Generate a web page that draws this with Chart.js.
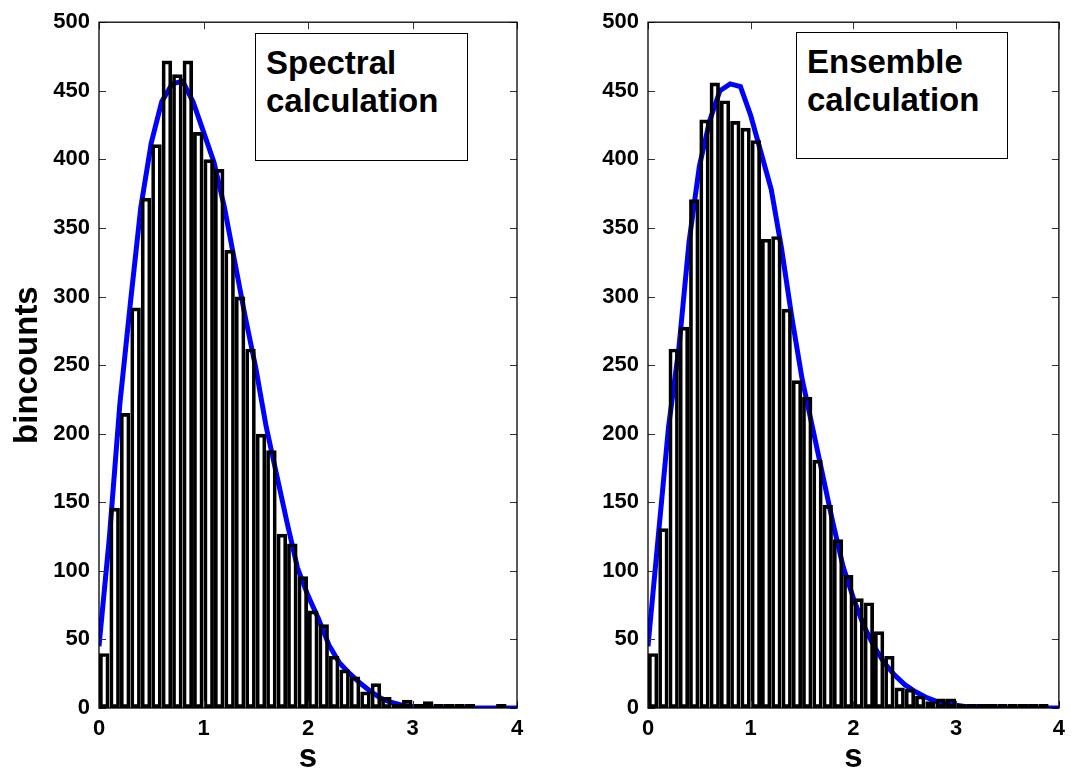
<!DOCTYPE html>
<html><head><meta charset="utf-8">
<script src="https://cdn.jsdelivr.net/npm/chart.js@4.4.1/dist/chart.umd.min.js"></script>
<style>
html,body{margin:0;padding:0;background:#fff;width:1073px;height:778px;overflow:hidden;}
canvas{position:absolute;top:0;}
#c1{left:0;}
#c2{left:549px;}
.note{position:absolute;box-sizing:border-box;border:1px solid #000;background:#fff;
  font-family:"Liberation Sans",Arial,sans-serif;font-weight:bold;font-size:33px;line-height:38px;color:#000;
  padding:10px 0 0 10px;white-space:nowrap;}
#n1{left:255px;top:33px;width:213px;height:128px;}
#n2{left:796px;top:32px;width:212px;height:127px;}
</style>
</head><body>
<canvas id="c1" width="540" height="778"></canvas>
<canvas id="c2" width="524" height="778"></canvas>
<div class="note" id="n1">Spectral<br>calculation</div>
<div class="note" id="n2">Ensemble<br>calculation</div>
<script>
// ---- data ----
const BIN_CENTERS = [0.05,0.15,0.25,0.35,0.45,0.55,0.65,0.75,0.85,0.95,
  1.05,1.15,1.25,1.35,1.45,1.55,1.65,1.75,1.85,1.95,
  2.05,2.15,2.25,2.35,2.45,2.55,2.65,2.75,2.85,2.95,
  3.05,3.15,3.25,3.35,3.45,3.55,3.65,3.75,3.85];
const SPECTRAL_COUNTS = [40,146,215,292,372,411,472,462,472,420,
  400,393,334,300,262,200,188,127,120,96,
  71,61,38,28,23,12,18,8,3,6,
  2,5,1,1,1,1,null,null,2];
const ENSEMBLE_COUNTS = [40,131,262,278,371,429,456,443,428,423,
  414,342,344,291,239,227,181,148,123,97,
  80,77,56,38,15,14,9,5,7,7,
  2,1,1,1,1,1,1,1,1];
const CURVE_S = [0,0.1,0.2,0.3,0.4,0.5,0.6,0.7,0.8,0.9,
  1.0,1.1,1.2,1.3,1.4,1.5,1.6,1.7,1.8,1.9,
  2.0,2.1,2.2,2.3,2.4,2.5,2.6,2.7,2.8,2.9,
  3.0,3.1,3.2,3.3,3.4,3.5,3.6,3.7,3.8,3.9,4.0];
const SPECTRAL_CURVE = [45,125,222,295,365,412,442,455,457,442,
  420,398,365,325,285,248,205,170,135,102,
  82,65,46,33,25,18,12,7,4,2,
  1,1,0,0,0,0,0,0,0,0,0];
const ENSEMBLE_CURVE = [45,125,205,262,340,395,428,450,455,453,
  432,405,378,335,285,240,205,170,135,103,
  80,60,45,33,24,17,12,8,5,3,
  2,1,1,0,0,0,0,0,0,0,0];
const X_TICKS = [0,1,2,3,4];
const Y_TICKS = [0,50,100,150,200,250,300,350,400,450,500];

Chart.defaults.font.family = "'Liberation Sans', Arial, sans-serif";
Chart.defaults.color = '#000';

const frame = {
  id: 'frame',
  afterDatasetsDraw(chart) {
    const {ctx, chartArea: a, scales: {x, y}} = chart;
    ctx.save();
    const L = 7;
    ctx.strokeStyle = '#333';
    ctx.lineWidth = 1;
    ctx.beginPath();
    X_TICKS.forEach(v => {
      const px = Math.round(x.getPixelForValue(v)) + 0.5;
      ctx.moveTo(px, a.bottom); ctx.lineTo(px, a.bottom - L);
      ctx.moveTo(px, a.top); ctx.lineTo(px, a.top + L);
    });
    Y_TICKS.forEach(v => {
      const py = Math.round(y.getPixelForValue(v)) + 0.5;
      ctx.moveTo(a.left, py); ctx.lineTo(a.left + L, py);
      ctx.moveTo(a.right, py); ctx.lineTo(a.right - L, py);
    });
    ctx.stroke();
    ctx.strokeStyle = '#000';
    ctx.lineWidth = 1.3;
    ctx.strokeRect(a.left, a.top, a.right - a.left, a.bottom - a.top);
    ctx.restore();
  }
};

function makeChart(id, counts, curve, withYTitle, rightPad) {
  const barData = BIN_CENTERS.map((s, i) => ({x: s, y: counts[i]}));
  const lineData = CURVE_S.map((s, i) => ({x: s, y: curve[i]}));
  return new Chart(document.getElementById(id), {
    type: 'bar',
    data: {
      datasets: [
        {
          type: 'line', data: lineData, borderColor: '#0000ff', borderWidth: 5,
          pointRadius: 0, tension: 0, fill: false, order: 2
        },
        {
          type: 'bar', data: barData, backgroundColor: 'rgba(0,0,0,0)', borderColor: '#000',
          borderWidth: 3.7, borderSkipped: false,
          barPercentage: 1, categoryPercentage: 1, minBarLength: 4, inflateAmount: 0, order: 1
        }
      ]
    },
    options: {
      responsive: false,
      animation: false,
      layout: {padding: {top: 12, right: rightPad, bottom: 0, left: 0}},
      plugins: {legend: {display: false}, tooltip: {enabled: false}},
      scales: {
        x: {
          type: 'linear', min: 0, max: 4, offset: false,
          grid: {display: false, drawTicks: false, offset: false},
          border: {display: false},
          afterBuildTicks: s => { s.ticks = X_TICKS.map(v => ({value: v})); },
          ticks: {font: {size: 22, weight: 'bold'}, padding: 8, maxRotation: 0},
          title: {display: true, text: 's', font: {size: 33, weight: 'bold'}, padding: {top: 0, bottom: 0}},
          afterFit: s => { s.height = 70; }
        },
        y: {
          min: 0, max: 500,
          grid: {display: false, drawTicks: false},
          border: {display: false},
          afterBuildTicks: s => { s.ticks = Y_TICKS.map(v => ({value: v})); },
          ticks: {font: {size: 22, weight: 'bold'}, padding: 9},
          title: {display: withYTitle, text: 'bincounts', font: {size: 33, weight: 'bold'}, padding: {top: 8, bottom: 0}},
          afterFit: s => { s.width = 99; }
        }
      }
    },
    plugins: [frame]
  });
}

makeChart('c1', SPECTRAL_COUNTS, SPECTRAL_CURVE, true, 23);
makeChart('c2', ENSEMBLE_COUNTS, ENSEMBLE_CURVE, false, 7);
</script>
</body></html>
